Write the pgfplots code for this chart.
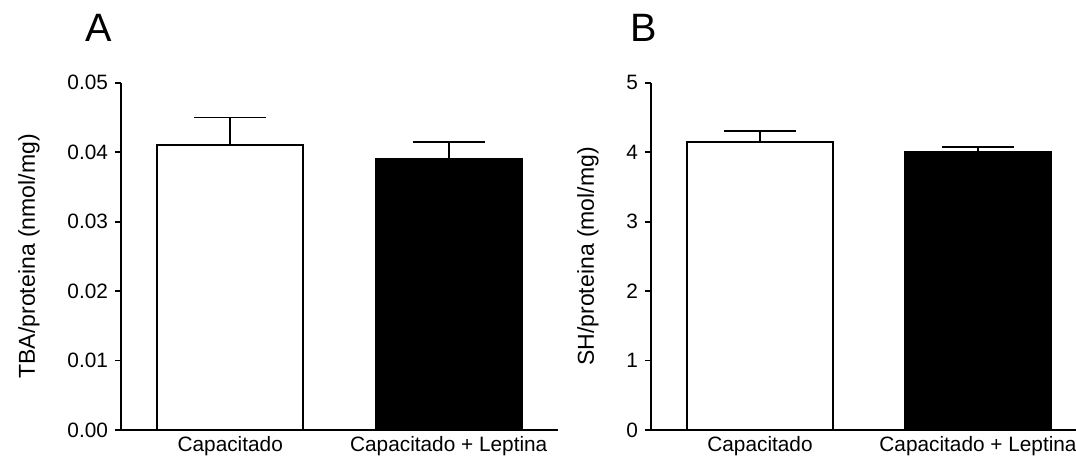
\documentclass[border=0pt]{standalone}
\usepackage{fontspec}
\setmainfont{Liberation Sans}
\usepackage{pgfplots}
\pgfplotsset{compat=1.18}

% GraphPad-like style shared by both panels
\pgfplotsset{prism/.style={
    scale only axis,
    anchor=south west,
    clip=false,
    axis lines*=left,
    axis line style={line width=0.9pt, black},
    ybar, bar shift=0pt, bar width=73pt,
    ymin=0, xmin=-0.5,
    height=173.65pt,
    xtick={0,1},
    xticklabels={Capacitado, Capacitado + Leptina},
    x tick style={draw=none},
    xticklabel style={yshift=3.5pt},
    tick align=outside,
    major tick length=3pt,
    y tick style={line width=0.9pt, black},
    scaled y ticks=false,
    ticklabel style={font=\fontsize{10.4}{12}\selectfont},
    /pgf/number format/assume math mode=true,
    ylabel style={font=\fontsize{11.5}{13}\selectfont},
    ylabel shift=7pt,
},
pbar/.style={draw=black, line width=0.9pt,
    error bars/.cd,
    y dir=plus, y explicit,
    error mark=|,
    error bar style={line width=0.9pt, black},
    error mark options={line width=0.9pt, mark size=18pt, black},
}}

\begin{document}
\begin{tikzpicture}
\path[use as bounding box] (0,0) rectangle (538pt,228pt);

% panel A
\begin{axis}[prism,
    at={(60.5pt,13pt)},
    width=218.5pt, xmax=1.5,
    ymax=0.05,
    ytick={0,0.01,0.02,0.03,0.04,0.05},
    yticklabel style={/pgf/number format/.cd, fixed, fixed zerofill, precision=2},
    ylabel={TBA/proteina (nmol/mg)},
]
\addplot[fill=white, pbar]
    coordinates {(0,0.041) +- (0,0.004)};
\addplot[fill=black, pbar]
    coordinates {(1,0.039) +- (0,0.0025)};
\end{axis}

% panel B
\begin{axis}[prism,
    at={(325.5pt,13pt)},
    width=212.55pt, xmax=1.45,
    ymax=5,
    ytick={0,1,2,3,4,5},
    ylabel={SH/proteina (mol/mg)},
]
\addplot[fill=white, pbar]
    coordinates {(0,4.15) +- (0,0.15)};
\addplot[fill=black, pbar]
    coordinates {(1,4.0) +- (0,0.08)};
\end{axis}

\node[anchor=base west, font=\fontsize{19.8}{22}\selectfont, inner sep=0pt] at (42.5pt,207pt) {A};
\node[anchor=base west, font=\fontsize{19.8}{22}\selectfont, inner sep=0pt] at (315pt,207pt) {B};
\end{tikzpicture}
\end{document}
